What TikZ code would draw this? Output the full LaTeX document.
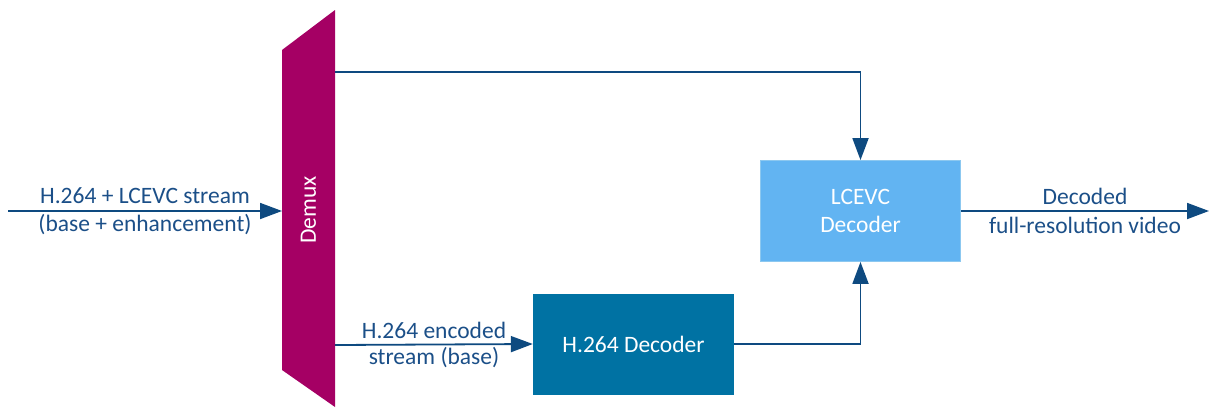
\documentclass[tikz,border=0pt]{standalone}
\usepackage{fontspec}
\setmainfont{Carlito}
\usetikzlibrary{arrows.meta}
\definecolor{demuxc}{HTML}{A50064}
\definecolor{lcevcc}{HTML}{62B4F2}
\definecolor{lcevcb}{HTML}{8CC8F0}
\definecolor{h264c}{HTML}{0072A3}
\definecolor{linec}{HTML}{0E4A80}
\definecolor{txtc}{HTML}{1B4F88}
\begin{document}
\begin{tikzpicture}[x=1pt,y=-1pt,
  conn/.style={draw=linec,line width=1.8pt},
  arr/.style={conn,-{Triangle[length=22pt,width=16pt]}},
  lbl/.style={text=txtc,font=\fontsize{23.5}{28}\selectfont,align=center,inner sep=0pt},
  boxtxt/.style={text=white,font=\fontsize{23.5}{28}\selectfont,align=center}]
\useasboundingbox (0,0) rectangle (1209,407);
% Demux
\fill[demuxc] (282,50) -- (335,10) -- (335,407) -- (282,370) -- cycle;
\node[boxtxt,rotate=90] (demux) at (308.5,210) {Demux};
\coordinate (dmL) at (282,211);
\coordinate (dmT) at (335,72);
\coordinate (dmB) at (335,345);
% boxes
\node[draw=lcevcb,fill=lcevcc,line width=0.8pt,minimum width=200pt,minimum height=101pt,boxtxt] (lcevc) at (860.5,211) {LCEVC\\Decoder};
\node[fill=h264c,minimum width=201pt,minimum height=101pt,boxtxt] (h264) at (633.5,344) {H.264 Decoder};
% input
\coordinate (in) at (8,211);
\draw[arr] (in) -- (dmL);
\node[lbl] (inlbl1) at (145,196) {H.264 + LCEVC stream};
\node[lbl] (inlbl2) at (145,225) {(base + enhancement)};
% top path
\draw[arr] (dmT) -| (lcevc.north);
% bottom path
\draw[arr] (dmB) -- (h264.west);
\node[lbl] (blbl1) at (434,330) {H.264 encoded};
\node[lbl] (blbl2) at (434,358) {stream (base)};
\draw[arr] (h264.east) -| (lcevc.south);
% output
\coordinate (out) at (1209,211);
\draw[arr] (lcevc.east) -- (out);
\node[lbl] (olbl1) at (1085,196) {Decoded};
\node[lbl] (olbl2) at (1085,225) {full-resolution video};
\end{tikzpicture}
\end{document}
